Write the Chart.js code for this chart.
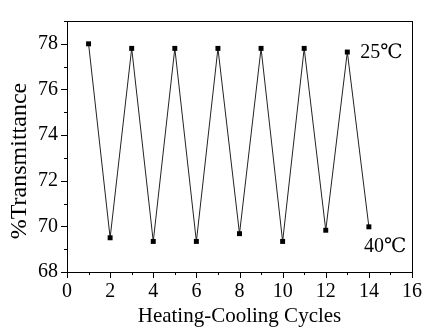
<!DOCTYPE html>
<html>
<head>
<meta charset="utf-8">
<script src="https://cdn.jsdelivr.net/npm/chart.js@4"></script>
<style>
  html, body { margin: 0; padding: 0; background: #fff; }
  #wrap { width: 430px; height: 327px; }
</style>
</head>
<body>
<div id="wrap"><canvas id="chart"></canvas></div>
<script>
const cycles = [1, 2, 3, 4, 5, 6, 7, 8, 9, 10, 11, 12, 13, 14];
const transmittance = [78.0, 69.5, 77.8, 69.34, 77.8, 69.34, 77.8, 69.68, 77.8, 69.34, 77.8, 69.83, 77.64, 69.98];
const xTicks = [0, 2, 4, 6, 8, 10, 12, 14, 16];
const yTicks = [68, 70, 72, 74, 76, 78];
const notes = [
  { text: '25\u2103', x: 13.6, y: 77.6 },
  { text: '40\u2103', x: 13.77, y: 69.1 },
];
const yTitle = '%Transmittance';

const SERIF = '"Liberation Serif", "DejaVu Serif", "Times New Roman", serif';

// frame, outward major/minor ticks, y title and the temperature notes
const framePlugin = {
  id: 'frame',
  afterDraw(chart) {
    const { ctx, chartArea: a, scales: { x, y } } = chart;
    ctx.save();
    ctx.strokeStyle = '#000';
    ctx.lineWidth = 1;
    ctx.strokeRect(a.left + 0.5, a.top + 0.5, a.right - a.left, a.bottom - a.top);
    ctx.beginPath();
    for (let v = x.min; v <= x.max; v++) {
      const px = Math.round(x.getPixelForValue(v)) + 0.5;
      const len = v % 2 === 0 ? 6 : 3;
      ctx.moveTo(px, a.bottom);
      ctx.lineTo(px, a.bottom + len);
    }
    for (let v = y.min; v <= y.max; v++) {
      const py = Math.round(y.getPixelForValue(v)) + 0.5;
      const len = v % 2 === 0 ? 6 : 3;
      ctx.moveTo(a.left, py);
      ctx.lineTo(a.left - len, py);
    }
    ctx.stroke();

    ctx.fillStyle = '#000';
    ctx.font = '20px ' + SERIF;
    ctx.textAlign = 'left';
    ctx.textBaseline = 'middle';
    notes.forEach(n => ctx.fillText(n.text, x.getPixelForValue(n.x), y.getPixelForValue(n.y)));

    ctx.translate(20, 161);
    ctx.rotate(-Math.PI / 2);
    ctx.font = '24px ' + SERIF;
    ctx.textAlign = 'center';
    ctx.fillText(yTitle, 0, 0);
    ctx.restore();
  },
};

new Chart(document.getElementById('chart'), {
  type: 'line',
  data: {
    labels: cycles,
    datasets: [{
      data: cycles.map((c, i) => ({ x: c, y: transmittance[i] })),
      borderColor: '#222',
      borderWidth: 1,
      pointStyle: 'rect',
      pointRadius: 3.5,
      pointBackgroundColor: '#000',
      pointBorderColor: '#000',
      pointBorderWidth: 0,
      tension: 0,
    }],
  },
  options: {
    responsive: true,
    maintainAspectRatio: false,
    animation: false,
    layout: { padding: { top: 15, right: 10, left: 0, bottom: 0 } },
    plugins: { legend: { display: false }, tooltip: { enabled: false } },
    scales: {
      x: {
        type: 'linear',
        min: 0, max: 16,
        grid: { display: false, drawTicks: false },
        border: { display: false },
        afterBuildTicks: s => { s.ticks = xTicks.map(v => ({ value: v })); },
        afterFit: s => { s.height = 55; },
        ticks: { color: '#000', padding: 8, maxRotation: 0, font: { family: SERIF, size: 20 } },
        title: {
          display: true, text: 'Heating-Cooling Cycles', color: '#000',
          font: { family: SERIF, size: 21, lineHeight: 1 }, padding: { top: 0, bottom: 0 },
        },
      },
      y: {
        min: 68, max: 79,
        grid: { display: false, drawTicks: false },
        border: { display: false },
        afterBuildTicks: s => { s.ticks = yTicks.map(v => ({ value: v })); },
        afterFit: s => { s.width = 67; },
        ticks: { color: '#000', padding: 9, font: { family: SERIF, size: 20 } },
      },
    },
  },
  plugins: [framePlugin],
});
</script>
</body>
</html>
